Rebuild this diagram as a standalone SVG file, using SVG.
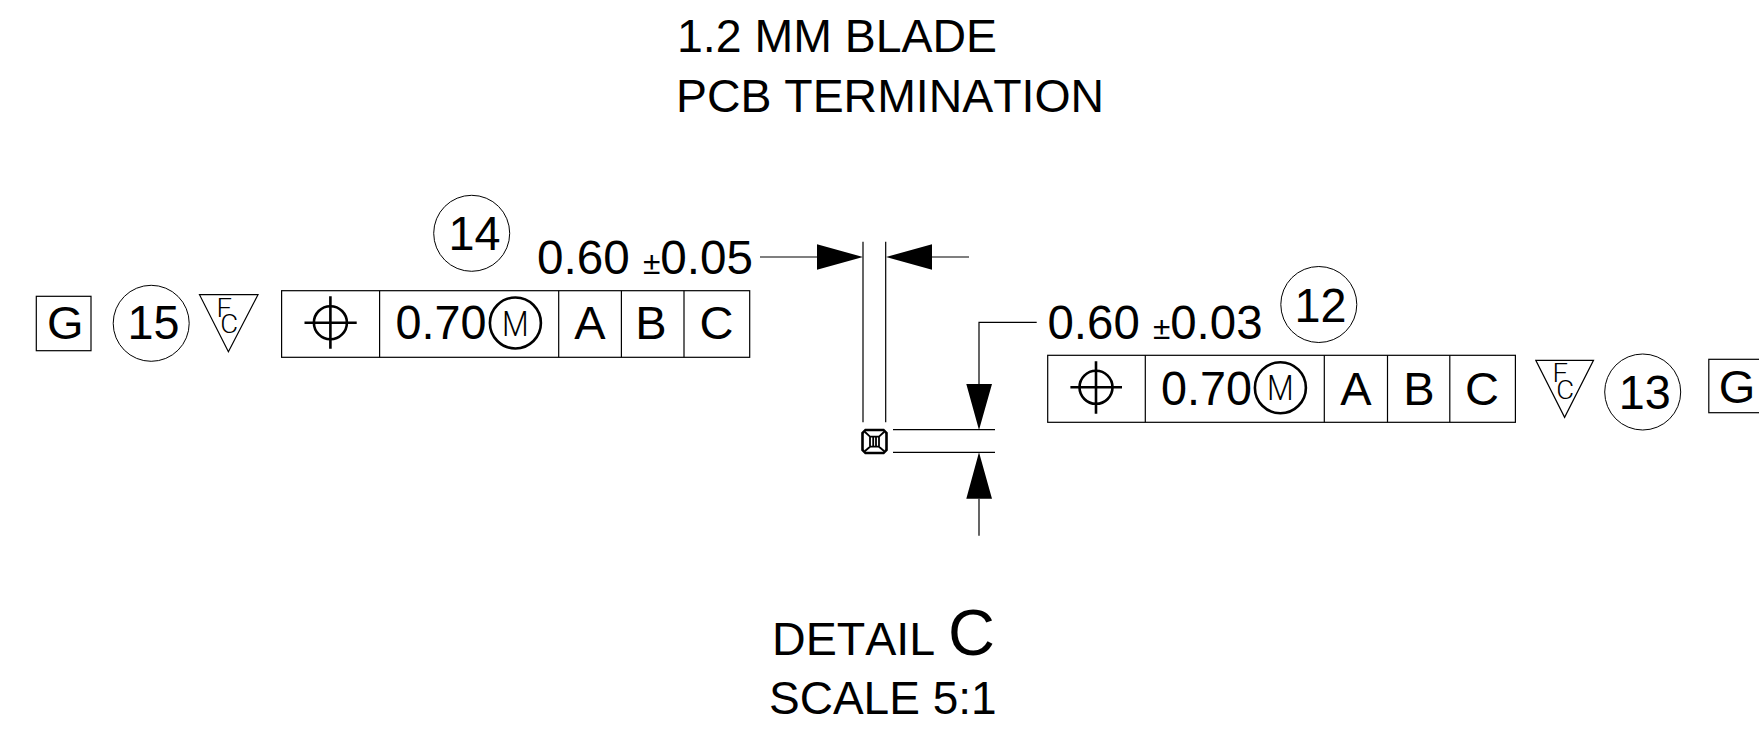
<svg xmlns="http://www.w3.org/2000/svg" width="1759" height="736" viewBox="0 0 1759 736">
<style>
text{font-family:"Liberation Sans",Arial,sans-serif;fill:#000;font-kerning:none}
.t{font-size:47px}
.d{font-size:48px}
.c{text-anchor:middle}
.pm{font-size:32px}
.s{fill:none;stroke:#000;stroke-width:1.2}
.b{fill:none;stroke:#000;stroke-width:1}
.m{fill:none;stroke:#000;stroke-width:2.6}
.i{fill:none;stroke:#000;stroke-width:1.8}
.fc{font-family:Roboto,"Liberation Sans",sans-serif;font-weight:300;font-size:25px}
.mm{font-family:Roboto,"Liberation Sans",sans-serif;font-weight:300;font-size:35px;text-anchor:middle}
.a{fill:#000;stroke:none}
</style>
<rect width="1759" height="736" fill="#fff"/>
<g id="title"><text class="t" x="677" y="51.7" textLength="320" lengthAdjust="spacingAndGlyphs">1.2 MM BLADE</text><text class="t" x="676" y="111.7" textLength="428" lengthAdjust="spacingAndGlyphs">PCB TERMINATION</text></g>
<g id="detail"><text style="font-size:46.6px" x="772" y="654.5">DETAIL <tspan font-size="65">C</tspan></text><text style="font-size:46px;font-kerning:normal" x="769" y="714">SCALE 5:1</text></g>
<g id="connectors">
<path class="s" d="M760 257H817M932 257H969M863 241.7V422.3M885.7 241.7V422.3"/>
<path class="s" d="M1036.7 322.3H979V384M893 429.7H995M893 452.3H995M979 498.7V535.7"/>
<path class="a" d="M817 244.3L863 257L817 269.7ZM932 244.3L886 257L932 269.7ZM966.3 384H992L979 430ZM966.3 498.7H992L979 452.3Z"/>
</g>
<g id="section"><path class="m" d="M865.5 430H883.5L886.5 433V450L883.5 453H865.5L862.5 450V433Z"/><path class="i" d="M865 432L870 436.7M884 432L879 436.7M865 451L870 446.7M884 451L879 446.7M870 436.7H879V446.7H870ZM873.2 436.7V446.7M876 436.7V446.7"/></g>
<g id="box-g-left"><rect class="s" x="36.3" y="296.3" width="54.7" height="54.4"/><text class="t c" x="65.4" y="339">G</text></g>
<g id="balloon-15"><circle class="b" cx="151.2" cy="323.3" r="38"/><text class="d c" x="153.5" y="339" textLength="52" lengthAdjust="spacingAndGlyphs">15</text></g>
<g id="flag-left"><path class="s" d="M199.5 294.7H258L228.4 351.7Z"/><text class="fc" transform="translate(216.5 0) scale(1.1 1)"><tspan x="0" y="316.7">F</tspan><tspan x="3.5" y="333.5">C</tspan></text></g>
<g id="frame-left"><rect class="s" x="281.6" y="290.7" width="468.1" height="66.6"/><path class="s" d="M379.6 290.7V357.3M558.7 290.7V357.3M621.4 290.7V357.3M684 290.7V357.3"/>
<circle class="m" cx="330.4" cy="322.7" r="16.5"/><path class="m" d="M304.5 322.7H356.7M330.4 296.3V348.7"/>
<text class="d" x="395.5" y="339" textLength="91" lengthAdjust="spacingAndGlyphs">0.70</text><circle class="m" cx="515.4" cy="323" r="25.5"/><text class="mm" transform="translate(515.4 335.5) scale(.88 1)">M</text>
<text class="t c" x="590" y="338.7">A</text><text class="t c" x="651" y="338.7">B</text><text class="t c" x="716.5" y="338.7">C</text></g>
<g id="balloon-14"><circle class="b" cx="471.7" cy="233.3" r="38"/><text class="d c" x="474.5" y="250" textLength="52" lengthAdjust="spacingAndGlyphs">14</text></g>
<text id="dim-width" class="d" x="537" y="273.5" textLength="216" lengthAdjust="spacingAndGlyphs">0.60 <tspan class="pm">±</tspan>0.05</text>
<text id="dim-height" class="d" x="1047.5" y="338.5" textLength="215" lengthAdjust="spacingAndGlyphs">0.60 <tspan class="pm">±</tspan>0.03</text>
<g id="balloon-12"><circle class="b" cx="1318.8" cy="304.5" r="38"/><text class="d c" x="1320.5" y="322" textLength="52" lengthAdjust="spacingAndGlyphs">12</text></g>
<g id="frame-right"><rect class="s" x="1047.7" y="355.3" width="467.7" height="67"/><path class="s" d="M1145.3 355.3V422.3M1324.3 355.3V422.3M1387.5 355.3V422.3M1449.8 355.3V422.3"/>
<circle class="m" cx="1096" cy="387.3" r="16.5"/><path class="m" d="M1070.4 387.3H1122M1096 361.3V413.7"/>
<text class="d" x="1161" y="405" textLength="91" lengthAdjust="spacingAndGlyphs">0.70</text><circle class="m" cx="1280.4" cy="387.7" r="25.5"/><text class="mm" transform="translate(1280.4 400.2) scale(.88 1)">M</text>
<text class="t c" x="1356" y="404.5">A</text><text class="t c" x="1419" y="404.5">B</text><text class="t c" x="1482" y="404.5">C</text></g>
<g id="flag-right"><path class="s" d="M1535.8 360.3H1593.5L1564.6 417.3Z"/><text class="fc" transform="translate(1552.5 0) scale(1.1 1)"><tspan x="0" y="382">F</tspan><tspan x="3.5" y="399">C</tspan></text></g>
<g id="balloon-13"><circle class="b" cx="1642.7" cy="392" r="38"/><text class="d c" x="1644.8" y="408.7" textLength="52" lengthAdjust="spacingAndGlyphs">13</text></g>
<g id="box-g-right"><rect class="s" x="1708.8" y="359.3" width="56" height="53.4"/><text class="t c" x="1737" y="403.3">G</text></g>
</svg>
